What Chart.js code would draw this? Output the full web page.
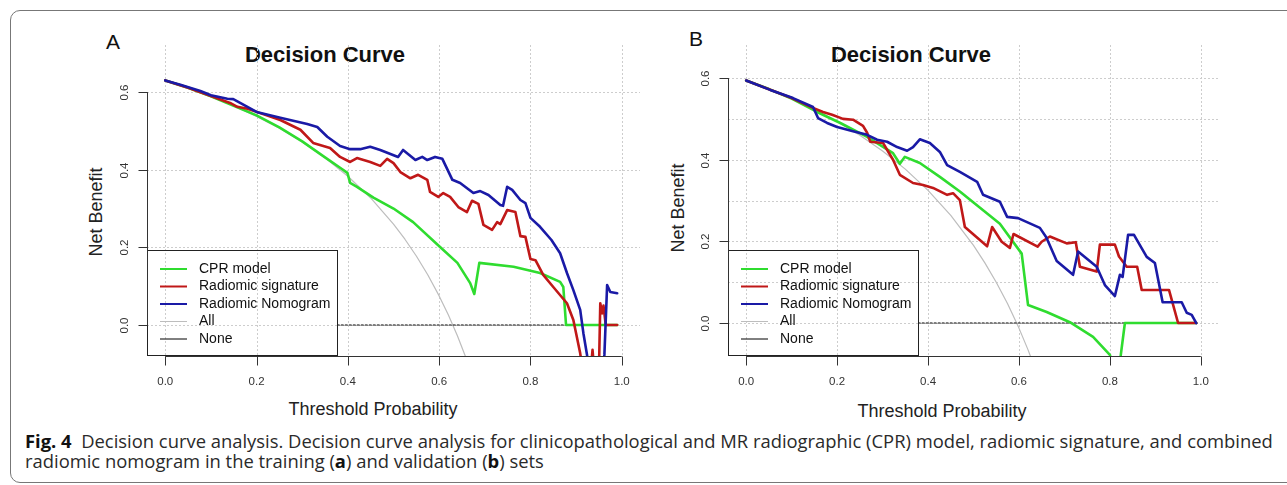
<!DOCTYPE html>
<html><head><meta charset="utf-8">
<script src="https://cdn.jsdelivr.net/npm/chart.js@4.4.1/dist/chart.umd.min.js"></script>
<style>
html,body{margin:0;padding:0;background:#fff;}
body{width:1287px;height:485px;overflow:hidden;position:relative;font-family:"Liberation Sans",Arial,sans-serif;color:#111;}
.frame{position:absolute;left:10px;top:10px;width:1300px;height:473px;border:1.5px solid #777;border-radius:10px;box-sizing:border-box;}
.t{position:absolute;transform:translate(-50%,-50%);white-space:nowrap;}
.lab{font-size:21px;}
.ttl{font-size:22px;font-weight:bold;}
.xt{font-size:18px;color:#222;}
.yt{font-size:18px;color:#222;transform:translate(-50%,-50%) rotate(-90deg);}
.wrap{position:absolute;top:30px;width:560px;height:370px;}
.cap{position:absolute;left:25px;top:431px;font-family:"Open Sans",sans-serif;font-size:18.4px;line-height:20px;white-space:nowrap;color:#2a2a2a;}
.cap b{color:#111;}
</style></head>
<body>
<div class="frame"></div>
<div class="t lab" style="left:113px;top:42px;">A</div>
<div class="t lab" style="left:696px;top:39px;">B</div>
<div class="t ttl" style="left:325px;top:55px;">Decision Curve</div>
<div class="t ttl" style="left:911px;top:55px;">Decision Curve</div>
<div class="t xt" style="left:373px;top:409px;">Threshold Probability</div>
<div class="t xt" style="left:942px;top:411px;">Threshold Probability</div>
<div class="t yt" style="left:96px;top:212px;">Net Benefit</div>
<div class="t yt" style="left:678px;top:208px;">Net Benefit</div>
<div class="wrap" style="left:100px;"><canvas id="cA" width="560" height="370"></canvas></div>
<div class="wrap" style="left:680px;"><canvas id="cB" width="560" height="370"></canvas></div>
<div class="cap"><b>Fig. 4</b>&nbsp; Decision curve analysis. Decision curve analysis for clinicopathological and MR radiographic (CPR) model, radiomic signature, and combined<br>radiomic nomogram in the training (<b>a</b>) and validation (<b>b</b>) sets</div>
<script>
// ---------- tick labels / grid ----------
const xTicks = [0, 0.2, 0.4, 0.6, 0.8, 1.0];
const yTicks = [0, 0.2, 0.4, 0.6];
const yGridA = [0, 0.2, 0.4, 0.6];
const yGridB = [0, 0.1, 0.2, 0.3, 0.4, 0.5, 0.6];
const legendLabels = ['CPR model', 'Radiomic signature', 'Radiomic Nomogram', 'All', 'None'];

// ---------- Panel A (training) ----------
const allA_x = [0,0.05,0.1,0.15,0.2,0.25,0.3,0.35,0.4,0.45,0.5,0.525,0.55,0.575,0.6,0.62,0.64,0.66,0.68];
const allA_y = [0.63,0.6105,0.5889,0.5647,0.5375,0.5067,0.4714,0.4308,0.3833,0.3273,0.26,0.221,0.1778,0.1294,0.075,0.0263,-0.0278,-0.0882,-0.156];
const noneA_x = [0, 0.99];
const noneA_y = [0, 0];
const cprA_x = [0,0.05,0.1,0.15,0.2,0.25,0.3,0.35,0.383,0.399,0.405,0.42,0.456,0.5,0.543,0.602,0.64,0.668,0.677,0.688,0.763,0.821,0.865,0.872,0.878,0.99];
const cprA_y = [0.63,0.611,0.589,0.565,0.54,0.509,0.473,0.432,0.405,0.392,0.366,0.356,0.328,0.3,0.265,0.201,0.16,0.108,0.08,0.16,0.15,0.134,0.111,0.098,0.0,0.0];
const radA_x = [0,0.05,0.1,0.142,0.158,0.18,0.2,0.252,0.296,0.324,0.361,0.383,0.405,0.42,0.449,0.471,0.486,0.5,0.515,0.537,0.554,0.574,0.58,0.598,0.609,0.624,0.642,0.661,0.672,0.686,0.697,0.716,0.727,0.734,0.749,0.767,0.778,0.789,0.8,0.811,0.828,0.85,0.88,0.894,0.909,0.915,0.932,0.936,0.94,0.95,0.953,0.957,0.96,0.965,0.99];
const radA_y = [0.63,0.611,0.59,0.572,0.562,0.557,0.549,0.528,0.503,0.469,0.456,0.433,0.42,0.43,0.42,0.41,0.428,0.417,0.394,0.378,0.387,0.374,0.343,0.33,0.34,0.33,0.304,0.291,0.32,0.312,0.258,0.245,0.265,0.26,0.296,0.291,0.229,0.227,0.17,0.167,0.129,0.098,0.056,0.013,-0.073,-0.12,-0.12,-0.064,-0.12,-0.12,0.056,0.03,0.05,0.0,0.0];
const nomA_x = [0,0.033,0.077,0.1,0.136,0.149,0.18,0.2,0.252,0.311,0.333,0.355,0.383,0.405,0.427,0.449,0.471,0.51,0.521,0.548,0.563,0.574,0.591,0.607,0.629,0.646,0.675,0.69,0.708,0.734,0.74,0.749,0.76,0.778,0.789,0.8,0.821,0.846,0.865,0.88,0.894,0.909,0.916,0.924,0.93,0.955,0.962,0.968,0.975,0.99];
const nomA_y = [0.63,0.619,0.603,0.592,0.583,0.582,0.562,0.549,0.534,0.518,0.51,0.485,0.461,0.453,0.453,0.459,0.451,0.433,0.451,0.425,0.433,0.425,0.433,0.428,0.374,0.366,0.34,0.345,0.335,0.309,0.307,0.356,0.348,0.322,0.314,0.276,0.253,0.219,0.185,0.134,0.09,0.039,-0.021,-0.077,-0.15,-0.15,-0.077,0.103,0.085,0.082];

// ---------- Panel B (validation) ----------
const allB_x = [0,0.05,0.1,0.15,0.2,0.25,0.3,0.35,0.4,0.45,0.5,0.525,0.55,0.575,0.6,0.62,0.64];
const allB_y = [0.595,0.5737,0.55,0.5235,0.4938,0.46,0.4214,0.3769,0.325,0.2636,0.19,0.1474,0.10,0.047,-0.0125,-0.0658,-0.125];
const noneB_x = [0, 0.99];
const noneB_y = [0, 0];
const cprB_x = [0,0.05,0.1,0.156,0.207,0.266,0.323,0.338,0.349,0.382,0.426,0.47,0.5,0.558,0.606,0.62,0.661,0.712,0.763,0.8,0.81,0.82,0.824,0.833,0.99];
const cprB_y = [0.594,0.573,0.55,0.517,0.49,0.456,0.416,0.39,0.407,0.392,0.358,0.322,0.295,0.243,0.17,0.044,0.027,0.002,-0.034,-0.078,-0.12,-0.12,-0.078,0.0,0.0];
const radB_x = [0,0.1,0.147,0.169,0.189,0.213,0.235,0.257,0.266,0.273,0.301,0.323,0.338,0.367,0.389,0.411,0.442,0.455,0.47,0.481,0.53,0.541,0.562,0.58,0.588,0.641,0.65,0.668,0.705,0.725,0.734,0.771,0.778,0.811,0.82,0.837,0.86,0.87,0.93,0.95,0.99];
const radB_y = [0.594,0.551,0.527,0.517,0.51,0.5,0.498,0.483,0.466,0.444,0.441,0.4,0.363,0.343,0.338,0.331,0.314,0.318,0.301,0.235,0.188,0.235,0.199,0.184,0.218,0.187,0.199,0.212,0.195,0.198,0.138,0.126,0.192,0.192,0.163,0.138,0.138,0.081,0.081,0.0,0.0];
const nomB_x = [0,0.053,0.103,0.147,0.158,0.178,0.2,0.235,0.266,0.288,0.31,0.332,0.354,0.367,0.382,0.404,0.426,0.442,0.47,0.508,0.521,0.558,0.574,0.598,0.646,0.66,0.683,0.719,0.73,0.771,0.789,0.811,0.822,0.828,0.84,0.853,0.866,0.881,0.899,0.916,0.958,0.969,0.98,0.99];
const nomB_y = [0.594,0.571,0.551,0.529,0.502,0.49,0.48,0.47,0.461,0.449,0.444,0.431,0.422,0.431,0.45,0.441,0.419,0.387,0.37,0.346,0.314,0.297,0.26,0.257,0.233,0.21,0.152,0.118,0.175,0.138,0.093,0.066,0.118,0.113,0.216,0.216,0.191,0.162,0.147,0.051,0.051,0.025,0.02,0.0];

const C_CPR = '#2fdc2f', C_RAD = '#c01818', C_NOM = '#1a1aa6', C_ALL = '#bdbdbd', C_NONE = '#000000';
const FONT = '"Liberation Sans", Arial, sans-serif';

function pts(xs, ys) { return xs.map((v, i) => ({x: v, y: ys[i]})); }

function drawGrid(chart, yGrid, rect) {
  const {ctx, chartArea: ca, scales: {x, y}} = chart;
  ctx.save();
  if (rect) { ctx.beginPath(); ctx.rect(rect[0], rect[1], rect[2], rect[3]); ctx.clip(); }
  ctx.strokeStyle = '#cdcdcd'; ctx.lineWidth = 1; ctx.setLineDash([2, 2]);
  xTicks.forEach(v => {
    const px = Math.round(x.getPixelForValue(v)) + 0.5;
    ctx.beginPath(); ctx.moveTo(px, ca.top); ctx.lineTo(px, ca.bottom); ctx.stroke();
  });
  yGrid.forEach(v => {
    const py = Math.round(y.getPixelForValue(v)) + 0.5;
    ctx.beginPath(); ctx.moveTo(ca.left, py); ctx.lineTo(ca.right, py); ctx.stroke();
  });
  ctx.restore();
}

const decor = {
  id: 'decor',
  beforeDatasetsDraw(chart) {
    drawGrid(chart, chart.options.plugins.decor.yGrid);
  },
  afterDatasetsDraw(chart) {
    const {ctx, chartArea: ca, scales: {x, y}} = chart;
    const opt = chart.options.plugins.decor;
    const lw = 191, lh = 106, lx = Math.round(ca.left), ly = Math.round(ca.bottom) - lh;
    ctx.save();
    ctx.fillStyle = '#fff'; ctx.fillRect(lx, ly, lw, lh);
    ctx.restore();
    drawGrid(chart, opt.yGrid, [lx, ly, lw, lh]);
    ctx.save();
    ctx.strokeStyle = '#222'; ctx.lineWidth = 1;
    ctx.strokeRect(lx + 0.5, ly + 0.5, lw - 1, lh - 1);
    const cols = [C_CPR, C_RAD, C_NOM, C_ALL, C_NONE];
    const wids = [2, 2, 2, 1, 1];
    ctx.font = '14px ' + FONT; ctx.fillStyle = '#111';
    ctx.textBaseline = 'middle'; ctx.textAlign = 'left';
    legendLabels.forEach((lab, i) => {
      const yy = ly + 19 + i * 17.5;
      ctx.strokeStyle = cols[i]; ctx.lineWidth = wids[i];
      ctx.beginPath(); ctx.moveTo(lx + 13, yy); ctx.lineTo(lx + 40, yy); ctx.stroke();
      ctx.fillText(lab, lx + 52, yy);
    });
    ctx.strokeStyle = '#333'; ctx.lineWidth = 1;
    const by = Math.round(ca.bottom) + 0.5;
    const x0 = x.getPixelForValue(xTicks[0]), x1 = x.getPixelForValue(xTicks[xTicks.length - 1]);
    ctx.beginPath(); ctx.moveTo(x0, by); ctx.lineTo(x1, by); ctx.stroke();
    xTicks.forEach(v => {
      const px = Math.round(x.getPixelForValue(v)) + 0.5;
      ctx.beginPath(); ctx.moveTo(px, by); ctx.lineTo(px, by + 9); ctx.stroke();
    });
    const lxp = Math.round(ca.left) + 0.5;
    const y0 = y.getPixelForValue(yTicks[0]), y1 = y.getPixelForValue(yTicks[yTicks.length - 1]);
    ctx.beginPath(); ctx.moveTo(lxp, y0); ctx.lineTo(lxp, y1); ctx.stroke();
    ctx.font = '11.5px ' + FONT; ctx.fillStyle = '#333';
    ctx.textAlign = 'center'; ctx.textBaseline = 'middle';
    yTicks.forEach(v => {
      const py = Math.round(y.getPixelForValue(v)) + 0.5;
      ctx.beginPath(); ctx.moveTo(lxp, py); ctx.lineTo(lxp - 9, py); ctx.stroke();
      ctx.save(); ctx.translate(ca.left - 22, py); ctx.rotate(-Math.PI / 2);
      ctx.fillText(v.toFixed(1), 0, 0); ctx.restore();
    });
    ctx.restore();
  }
};

function ds(label, xs, ys, color, width, dash) {
  return {label, data: pts(xs, ys), borderColor: color, borderWidth: width,
    borderDash: dash || [], pointRadius: 0, tension: 0, fill: false, clip: 0,
    borderCapStyle: 'round', borderJoinStyle: 'round'};
}

function makeChart(id, sets, ymin, ymax, yGrid, padL, padR) {
  return new Chart(document.getElementById(id), {
    type: 'line',
    data: {datasets: sets},
    options: {
      responsive: false, animation: false, devicePixelRatio: 1, parsing: false,
      layout: {padding: {left: padL, right: padR, top: 15, bottom: 4}},
      plugins: {legend: {display: false}, tooltip: {enabled: false}, title: {display: false}, decor: {yGrid}},
      scales: {
        x: {type: 'linear', min: -0.04, max: 1.04,
          afterBuildTicks: s => { s.ticks = xTicks.map(v => ({value: v})); },
          afterFit: s => { s.height = 40; },
          grid: {display: false, drawTicks: false}, border: {display: false},
          ticks: {autoSkip: false, maxRotation: 0, padding: 19, color: '#333',
            font: {family: FONT, size: 11.5}, callback: v => Number(v).toFixed(1)}},
        y: {type: 'linear', min: ymin, max: ymax, display: false}
      }
    },
    plugins: [decor]
  });
}

makeChart('cA', [
  ds('Radiomic Nomogram', nomA_x, nomA_y, C_NOM, 2.6),
  ds('Radiomic signature', radA_x, radA_y, C_RAD, 2.6),
  ds('CPR model', cprA_x, cprA_y, C_CPR, 2.6),
  ds('None', noneA_x, noneA_y, C_NONE, 1.2, [2, 2]),
  ds('All', allA_x, allA_y, C_ALL, 1.2)
], -0.0798, 0.7213, yGridA, 47, 20);

makeChart('cB', [
  ds('Radiomic Nomogram', nomB_x, nomB_y, C_NOM, 2.6),
  ds('Radiomic signature', radB_x, radB_y, C_RAD, 2.6),
  ds('CPR model', cprB_x, cprB_y, C_CPR, 2.6),
  ds('None', noneB_x, noneB_y, C_NONE, 1.2, [2, 2]),
  ds('All', allB_x, allB_y, C_ALL, 1.2)
], -0.0808, 0.681, yGridB, 48, 21);
</script>
</body></html>
